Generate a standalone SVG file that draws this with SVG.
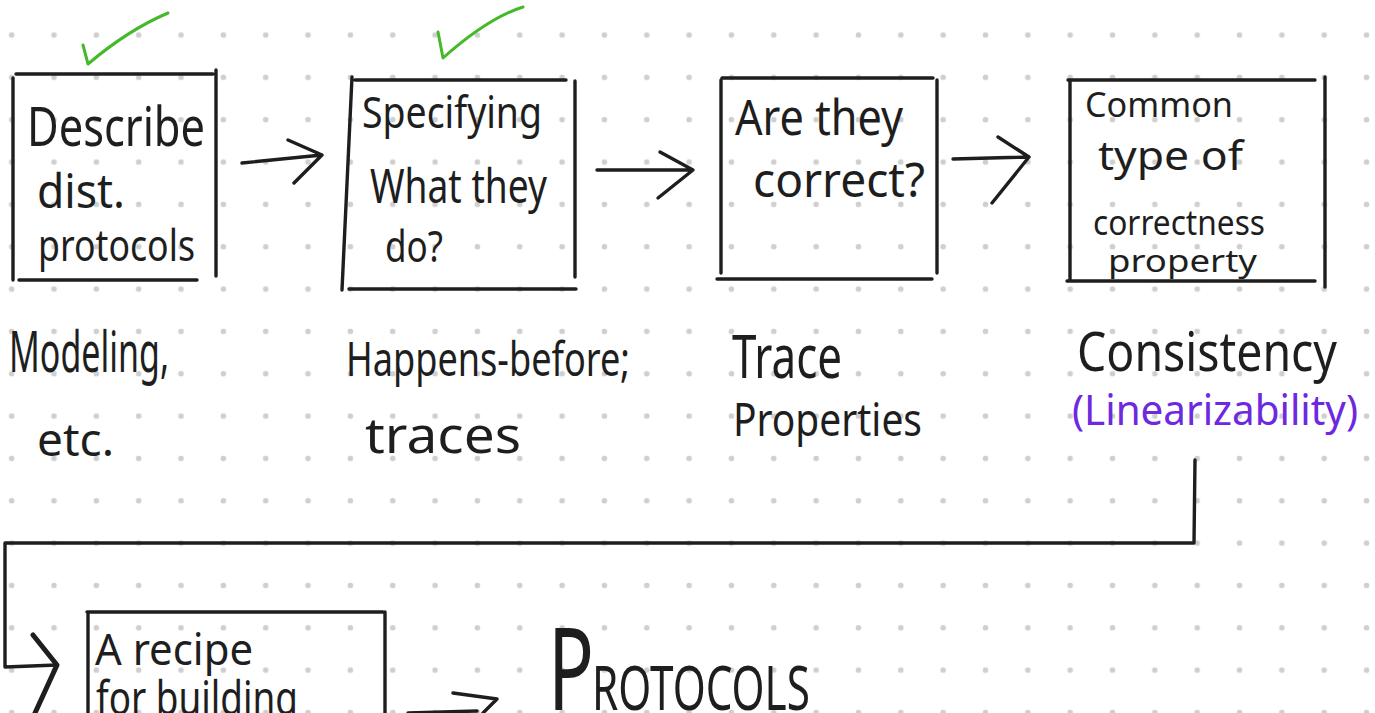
<svg xmlns="http://www.w3.org/2000/svg" width="1375" height="713" viewBox="0 0 1375 713">
  <style>
    .ink { fill: none; stroke: #1e1e1e; stroke-width: 3.4; stroke-linecap: round; stroke-linejoin: round; }
    .bold { stroke-width: 5; }
    .tick { fill: none; stroke: #44b92a; stroke-width: 3; stroke-linecap: round; stroke-linejoin: round; }
    .hw { font-family: "Noto Sans", "Liberation Sans", sans-serif; fill: #1e1e1e; }
    .violet { fill: #6d28e0; }
  </style>
  <defs>
    <!-- dotted paper grid -->
    <pattern id="dots" x="-9.5" y="13.8" width="42.34" height="42.34" patternUnits="userSpaceOnUse">
      <circle cx="21.17" cy="21.17" r="2.8" fill="#cfcfcf"/>
    </pattern>
  </defs>

  <rect width="1375" height="713" fill="#ffffff"/>
  <rect width="1375" height="713" fill="url(#dots)"/>

  <!-- green check marks above the first two steps -->
  <g id="checks">
    <path class="tick" d="M83 45 L88 64 Q128 30 168 13"/>
    <path class="tick" d="M438 32 L443 58 Q488 18 523 7"/>
  </g>

  <!-- step 1 -->
  <g id="node-describe">
    <path class="ink" d="M16 74 L213 74 M13 78 L13 280 M216 70 L216 276 M19 280 L197 280"/>
    <text class="hw" x="27" y="146" font-size="54" textLength="178" lengthAdjust="spacingAndGlyphs">Describe</text>
    <text class="hw" x="37" y="208" font-size="48" textLength="88" lengthAdjust="spacingAndGlyphs">dist.</text>
    <text class="hw" x="38" y="261" font-size="44" textLength="157" lengthAdjust="spacingAndGlyphs">protocols</text>
  </g>

  <!-- step 2 -->
  <g id="node-specifying">
    <path class="ink" d="M352 77 L342 290 M355 80 L566 80 M575 81 L575 277 M349 289 L576 289"/>
    <text class="hw" x="362" y="128" font-size="44" textLength="180" lengthAdjust="spacingAndGlyphs">Specifying</text>
    <text class="hw" x="370" y="203" font-size="48" textLength="177" lengthAdjust="spacingAndGlyphs">What they</text>
    <text class="hw" x="385" y="262" font-size="44" textLength="58" lengthAdjust="spacingAndGlyphs">do?</text>
  </g>

  <!-- step 3 -->
  <g id="node-correct">
    <path class="ink" d="M722 78 L933 78 M721 80 L721 273 M937 80 L937 273 M717 279 L932 279"/>
    <text class="hw" x="735" y="135" font-size="50" textLength="168" lengthAdjust="spacingAndGlyphs">Are they</text>
    <text class="hw" x="753" y="197" font-size="48" textLength="172" lengthAdjust="spacingAndGlyphs">correct?</text>
  </g>

  <!-- step 4 -->
  <g id="node-common">
    <path class="ink" d="M1068 80 L1315 80 M1070 80 L1070 280 M1325 77 L1325 287 M1067 281 L1315 281"/>
    <text class="hw" x="1085" y="117" font-size="34" textLength="148" lengthAdjust="spacingAndGlyphs">Common</text>
    <text class="hw" x="1098" y="170" font-size="40" textLength="145" lengthAdjust="spacingAndGlyphs">type of</text>
    <text class="hw" x="1093" y="235" font-size="34" textLength="172" lengthAdjust="spacingAndGlyphs">correctness</text>
    <text class="hw" x="1108" y="272" font-size="30" textLength="149" lengthAdjust="spacingAndGlyphs">property</text>
  </g>

  <!-- notes under each step -->
  <g id="note-modeling">
    <text class="hw" x="9" y="372" font-size="56" textLength="160" lengthAdjust="spacingAndGlyphs">Modeling,</text>
    <text class="hw" x="37" y="456" font-size="46" textLength="77" lengthAdjust="spacingAndGlyphs">etc.</text>
  </g>
  <g id="note-happens">
    <text class="hw" x="346" y="376" font-size="48" textLength="284" lengthAdjust="spacingAndGlyphs">Happens-before;</text>
    <text class="hw" x="365" y="453" font-size="50" textLength="156" lengthAdjust="spacingAndGlyphs">traces</text>
  </g>
  <g id="note-trace">
    <text class="hw" x="732" y="378" font-size="60" textLength="110" lengthAdjust="spacingAndGlyphs">Trace</text>
    <text class="hw" x="733" y="436" font-size="46" textLength="189" lengthAdjust="spacingAndGlyphs">Properties</text>
  </g>
  <g id="note-consistency">
    <text class="hw" x="1077" y="371" font-size="54" textLength="260" lengthAdjust="spacingAndGlyphs">Consistency</text>
    <text class="hw violet" x="1072" y="425" font-size="42" textLength="286" lengthAdjust="spacingAndGlyphs">(Linearizability)</text>
  </g>

  <!-- step 5 -->
  <g id="node-recipe">
    <path class="ink" d="M87 612 L383 612 M88 614 L88 713 M385 612 L385 713"/>
    <text class="hw" x="95" y="665" font-size="44" textLength="158" lengthAdjust="spacingAndGlyphs">A recipe</text>
    <text class="hw" x="96" y="715" font-size="48" textLength="202" lengthAdjust="spacingAndGlyphs">for building</text>
  </g>

  <g id="node-protocols">
    <text class="hw" x="548" y="710"><tspan font-size="116" textLength="46" lengthAdjust="spacingAndGlyphs">P</tspan><tspan x="592" font-size="62" textLength="218" lengthAdjust="spacingAndGlyphs">ROTOCOLS</tspan></text>
  </g>

  <!-- connectors -->
  <g id="connectors">
    <path class="ink" d="M242 163 L322 155 M288 140 L322 155 L294 183"/>
    <path class="ink" d="M597 170 L693 170 M660 152 L693 170 L658 198"/>
    <path class="ink" d="M953 159 L1029 157 M998 137 L1029 157 L992 203"/>
    <path class="ink" d="M1195 460 L1194 543 L5 543 L5 667 L57 665"/>
    <path class="ink bold" d="M33 635 L57 665 L35 713"/>
    <path class="ink" d="M408 713 L477 711 M453 693 L497 699 L483 713"/>
  </g>
</svg>
